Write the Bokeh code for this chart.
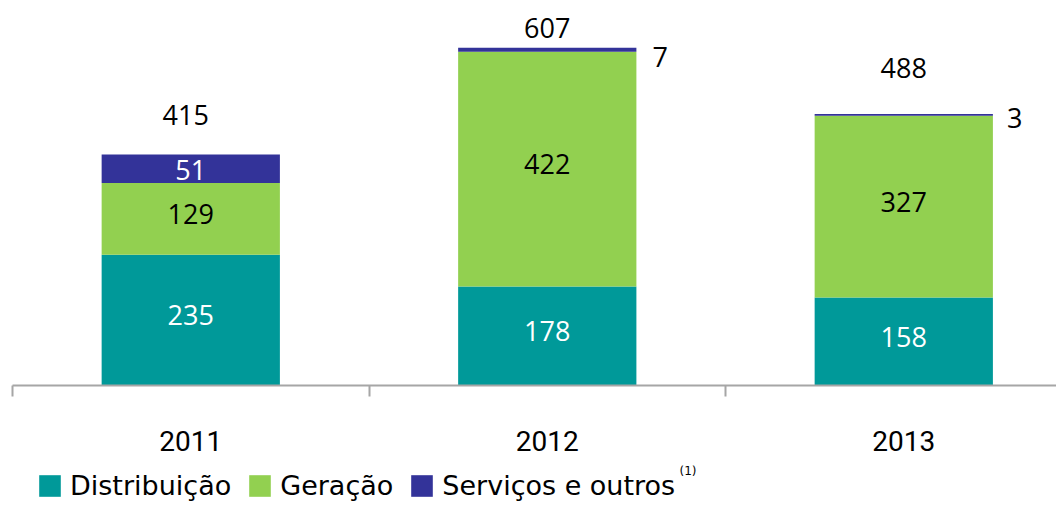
import numpy as np
from bokeh.plotting import figure
from bokeh.layouts import column
from bokeh.models import ColumnDataSource, FixedTicker, Legend, LegendItem, Label, Range1d
from bokeh.core.properties import value
from bokeh.embed import file_html
from bokeh.resources import INLINE

# ---- data ----
years = ["2011", "2012", "2013"]
distribuicao = [235, 178, 158]
geracao = [129, 422, 327]
servicos = [51, 7, 3]
totals = [415, 607, 488]
series_names = ["Distribuição", "Geração", "Serviços e outros"]
colors = ["#009999", "#92D050", "#333399"]

# ---- layout / style ----
xpos = [i + 0.5 for i in range(len(years))]
AX_FONT = "Roboto"
LEG_FONT = "DejaVu Sans"
VAL_FONT = "Open Sans"

p = figure(width=1056, height=465,
           x_range=Range1d(-0.0337, 2.9284), y_range=Range1d(0, 692),
           output_backend="svg", toolbar_location=None,
           min_border_left=0, min_border_right=0, min_border_top=0, min_border_bottom=80,
           y_axis_location=None)
p.outline_line_color = None
p.xgrid.visible = False
p.ygrid.visible = False
p.background_fill_color = "white"
p.border_fill_color = "white"

src = ColumnDataSource(dict(x=xpos, d=distribuicao, g=geracao, s=servicos))
rs = p.vbar_stack(["d", "g", "s"], x="x", width=0.5, source=src,
                  color=colors, line_color=None)

# x axis: labels at category centres, tick marks at boundaries
ax = p.xaxis[0]
ax.ticker = FixedTicker(ticks=xpos, minor_ticks=[0, 1, 2, 3])
ax.major_label_overrides = {x: y for x, y in zip(xpos, years)}
ax.bounds = (0, 3)
ax.axis_line_color = "#A6A6A6"
ax.axis_line_width = 2
ax.major_tick_line_color = None
ax.major_tick_out = 0
ax.major_tick_in = 0
ax.minor_tick_line_color = "#A6A6A6"
ax.minor_tick_line_width = 2
ax.minor_tick_out = 11
ax.minor_tick_in = 0
ax.major_label_text_font = AX_FONT
ax.major_label_text_font_size = "28px"
ax.major_label_text_color = "#000000"
ax.major_label_standoff = 34

# segment labels
d = np.array(distribuicao, float)
g = np.array(geracao, float)
s = np.array(servicos, float)
seg_x = xpos + xpos + [xpos[0]]
seg_y = list(d / 2) + list(d + g / 2) + [float(d[0] + g[0] + s[0] / 2)]
seg_t = [str(v) for v in distribuicao] + [str(v) for v in geracao] + [str(servicos[0])]
seg_c = ["white"] * 3 + ["black"] * 3 + ["white"]
seg_dy = [-5] * 6 + [1]
p.text(x=seg_x, y=seg_y, text=seg_t, text_color=seg_c, text_align="center",
       text_baseline="middle", y_offset=seg_dy,
       text_font=value(VAL_FONT), text_font_size="27px")

# small services values shown to the right of bars
out_x = [xpos[1] + 0.25, xpos[2] + 0.25]
out_y = [totals[1], totals[2]]
out_t = [str(servicos[1]), str(servicos[2])]
p.text(x=out_x, y=out_y, text=out_t, text_align="left", text_baseline="middle",
       x_offset=[16, 14], y_offset=[9, 4], text_color="black",
       text_font=value(VAL_FONT), text_font_size="27px")

# totals above bars
p.text(x=xpos, y=totals, text=[str(t) for t in totals], text_align="center",
       text_baseline="middle", x_offset=[-5, 0, 0], y_offset=[-40, -20, -46],
       text_color="black", text_font=value(VAL_FONT), text_font_size="27px")

# ---- legend strip ----
q = figure(width=1056, height=36, x_range=Range1d(-20, -19), y_range=Range1d(0, 1),
           output_backend="svg", toolbar_location=None,
           min_border_left=0, min_border_right=0, min_border_top=0, min_border_bottom=0,
           x_axis_location=None, y_axis_location=None)
q.outline_line_color = None
q.xgrid.visible = False
q.ygrid.visible = False
q.border_fill_color = "white"
swatches = q.vbar_stack(["d", "g", "s"], x="x", width=0.5, source=src,
                        color=colors, line_color=None)

legend = Legend(items=[LegendItem(label=n, renderers=[r]) for n, r in zip(series_names, swatches)],
                orientation="horizontal", location=(36, 0),
                glyph_width=27, glyph_height=27, label_height=27,
                label_standoff=7, spacing=15, padding=0, margin=0,
                border_line_alpha=0, background_fill_alpha=0,
                label_text_font=LEG_FONT, label_text_font_size="27px",
                label_text_color="#000000")
q.add_layout(legend)
q.add_layout(Label(x=679, y=31, x_units="screen", y_units="screen", text="(1)",
                   text_font=LEG_FONT, text_font_size="12px", text_baseline="middle",
                   text_color="#000000"))

layout = column(p, q, spacing=0)
open("out.html", "w").write(file_html(layout, INLINE))
